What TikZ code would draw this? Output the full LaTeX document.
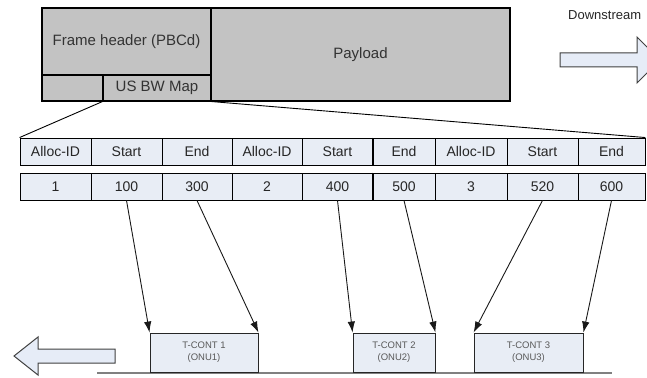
\documentclass[tikz,border=0pt]{standalone}
\usepackage{fontspec}
\setmainfont{Liberation Sans}
\usetikzlibrary{arrows.meta}
\definecolor{framegray}{HTML}{C3C3C3}
\definecolor{cellblue}{HTML}{E8EDF5}
\definecolor{arrowblue}{HTML}{E6ECF7}
\begin{document}
\begin{tikzpicture}[x=1pt,y=-1pt,
  framebox/.style={draw=black, line width=1.1pt, fill=framegray, inner sep=0pt, text=black!80, font=\fontsize{15}{17}\selectfont},
  cell/.style={draw=black, line width=0.9pt, fill=cellblue, inner sep=0pt, minimum height=27pt, font=\fontsize{14}{16}\selectfont, text=black!85},
  tcont/.style={draw=black!85, line width=0.9pt, fill=cellblue, inner sep=0pt, minimum height=39pt, font=\fontsize{9.5}{12}\selectfont, text=black!65, align=center},
  link/.style={draw=black!90, line width=0.9pt, -{Latex[length=11pt,width=7.5pt]}},
  fan/.style={draw=black, line width=0.9pt},
  blockarrow/.style={draw=black!75, line width=1pt, fill=arrowblue}]
\clip (0,0) rectangle (647,377);
% frame
\node[framebox, minimum width=169pt, minimum height=67pt] (hdr) at (126.5,41.5) {Frame header (PBCd)};
\node[framebox, minimum width=61pt, minimum height=26pt] (hdrl) at (72.5,88) {};
\node[framebox, minimum width=108pt, minimum height=26pt] (usbw) at (157,88) {US BW Map};
\node[framebox, minimum width=299pt, minimum height=93pt] (pay) at (360.5,54.5) {Payload};
% downstream
\node[anchor=west, inner sep=0pt, font=\fontsize{13}{15}\selectfont, text=black!85] (ds) at (568,15) {Downstream};
\draw[blockarrow] (560,53) -- (637,53) -- (637,37) -- (660,60) -- (637,83) -- (637,67) -- (560,67) -- cycle;
% table
\foreach \i/\l/\r/\ta/\tb in {1/20/91/Alloc-ID/1, 2/91/162/Start/100, 3/162/232/End/300,
  4/232/302/Alloc-ID/2, 5/302/373/Start/400, 6/373/435/End/500, 7/435/507/Alloc-ID/3,
  8/507/578/Start/520, 9/578/645/End/600}{
  \node[cell, minimum width={\r-\l}] (a\i) at ({(\l+\r)/2},151.5) {\ta};
  \node[cell, minimum width={\r-\l}] (b\i) at ({(\l+\r)/2},186.5) {\tb};
}
\draw[line width=1.6pt] (a6.north west) -- (a6.south west);
\draw[line width=1.6pt] (b6.north west) -- (b6.south west);
% fan lines
\draw[fan] (usbw.south west) -- (a1.north west);
\draw[fan] (usbw.south east) -- (a9.north east);
% T-CONTs
\draw[gray, line width=1.4pt] (97,373) -- (612,373);
\node[tcont, minimum width=108pt] (t1) at (204,352.5) {T-CONT 1\\(ONU1)};
\node[tcont, minimum width=82pt] (t2) at (394,352.5) {T-CONT 2\\(ONU2)};
\node[tcont, minimum width=109pt] (t3) at (528.5,352.5) {T-CONT 3\\(ONU3)};
\draw[link] (b2.south) -- (t1.north west);
\draw[link] (b3.south) -- (t1.north east);
\draw[link] (b5.south) -- (t2.north west);
\draw[link] (b6.south) -- (t2.north east);
\draw[link] (b8.south) -- (t3.north west);
\draw[link] (b9.south) -- (t3.north east);
% upstream arrow
\draw[blockarrow] (115,349) -- (38,349) -- (38,337) -- (14,356) -- (38,375) -- (38,363) -- (115,363) -- cycle;
\end{tikzpicture}
\end{document}
